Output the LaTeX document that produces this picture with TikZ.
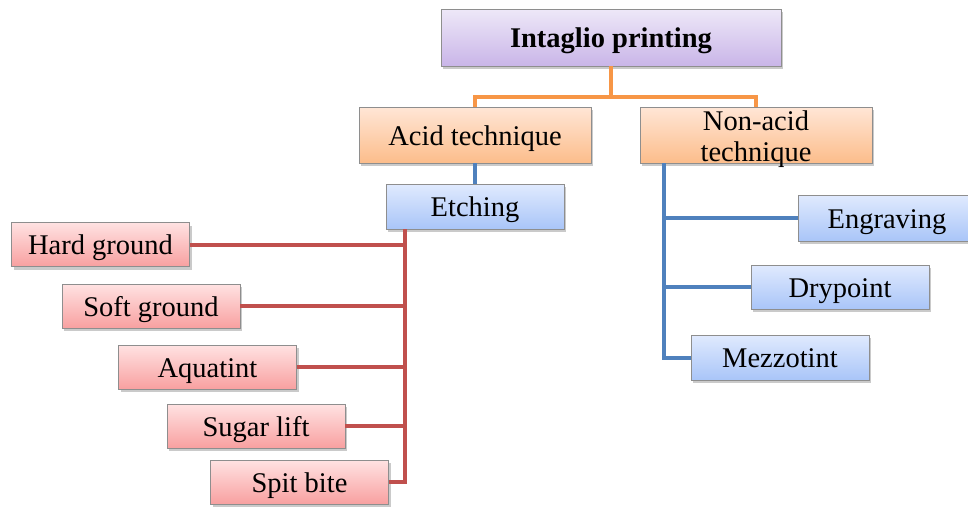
\documentclass[tikz,border=0pt]{standalone}
\usepackage{fontspec}
\setmainfont{Liberation Serif}
\usetikzlibrary{shadows}
\definecolor{lineorange}{HTML}{F79646}
\definecolor{lineblue}{HTML}{4F81BD}
\definecolor{linered}{HTML}{C0504D}
\definecolor{boxedge}{HTML}{8E8E8E}
\definecolor{purpletop}{HTML}{EEE8F8}
\definecolor{purplebot}{HTML}{C9B5E8}
\definecolor{orangetop}{HTML}{FFE6D6}
\definecolor{orangebot}{HTML}{FCBD8B}
\definecolor{bluetop}{HTML}{E0EAFE}
\definecolor{bluebot}{HTML}{A9C5F8}
\definecolor{redtop}{HTML}{FFE2E2}
\definecolor{redbot}{HTML}{F8A0A0}
\tikzset{
  box/.style={draw=boxedge, line width=0.8pt, rectangle, inner sep=0pt,
    align=center, font=\fontsize{28.5}{31}\selectfont,
    text height=22pt, text depth=2pt,
    drop shadow={shadow xshift=2pt, shadow yshift=-3pt, opacity=0.35, fill=black!60}},
  purplebox/.style={box, top color=purpletop, bottom color=purplebot},
  orangebox/.style={box, top color=orangetop, bottom color=orangebot},
  bluebox/.style={box, top color=bluetop, bottom color=bluebot},
  redbox/.style={box, top color=redtop, bottom color=redbot},
  leafbox/.style={minimum width=178pt, minimum height=44pt},
  conn/.style={line width=4pt}
}
\begin{document}
\begin{tikzpicture}[x=1pt, y=-1pt]
\useasboundingbox (0,0) rectangle (968,506);

% top level
\node[purplebox, minimum width=340pt, minimum height=57pt, font=\fontsize{28.5}{31}\selectfont\bfseries]
  (top) at (611,37.5) {Intaglio printing};

% second level
\node[orangebox, minimum width=232pt, minimum height=56pt] (acid) at (475,135) {Acid technique};
\node[orangebox, minimum width=232pt, minimum height=56pt, text height=54pt, text depth=2pt]
  (nonacid) at (756,135) {Non-acid\\technique};

% acid branch
\node[bluebox, minimum width=178pt, minimum height=45pt] (etch) at (475,206.5) {Etching};
\node[redbox, leafbox] (hard)  at (100.5,244.5) {Hard ground};
\node[redbox, leafbox] (soft)  at (151,306)   {Soft ground};
\node[redbox, leafbox] (aqua)  at (207.5,367) {Aquatint};
\node[redbox, leafbox] (sugar) at (256,426)   {Sugar lift};
\node[redbox, leafbox] (spit)  at (299.5,482) {Spit bite};

% non-acid branch
\node[bluebox, leafbox, minimum height=46pt] (engr) at (887,218) {Engraving};
\node[bluebox, leafbox] (dry)  at (840,287)   {Drypoint};
\node[bluebox, leafbox, minimum height=45pt] (mezzo) at (780,357.5) {Mezzotint};

% trunk positions
\coordinate (obar) at (0,97);
\coordinate (rtrunk) at (405,0);
\coordinate (btrunk) at (664,0);

% connectors
\draw[conn, lineorange] (top.south) -- (top.south |- obar);
\draw[conn, lineorange] (acid.north) -- (acid.north |- obar) -- (nonacid.north |- obar) -- (nonacid.north);
\draw[conn, lineblue] (acid.south) -- (etch.north);

\draw[conn, linered] (etch.south -| rtrunk) -- (rtrunk |- spit) -- (spit.east);
\draw[conn, linered] (hard.east) -- (hard.east -| rtrunk);
\draw[conn, linered] (soft.east) -- (soft.east -| rtrunk);
\draw[conn, linered] (aqua.east) -- (aqua.east -| rtrunk);
\draw[conn, linered] (sugar.east) -- (sugar.east -| rtrunk);

\draw[conn, lineblue] (nonacid.south -| btrunk) -- (btrunk |- mezzo) -- (mezzo.west);
\draw[conn, lineblue] (engr.west) -- (engr.west -| btrunk);
\draw[conn, lineblue] (dry.west) -- (dry.west -| btrunk);
\end{tikzpicture}
\end{document}
